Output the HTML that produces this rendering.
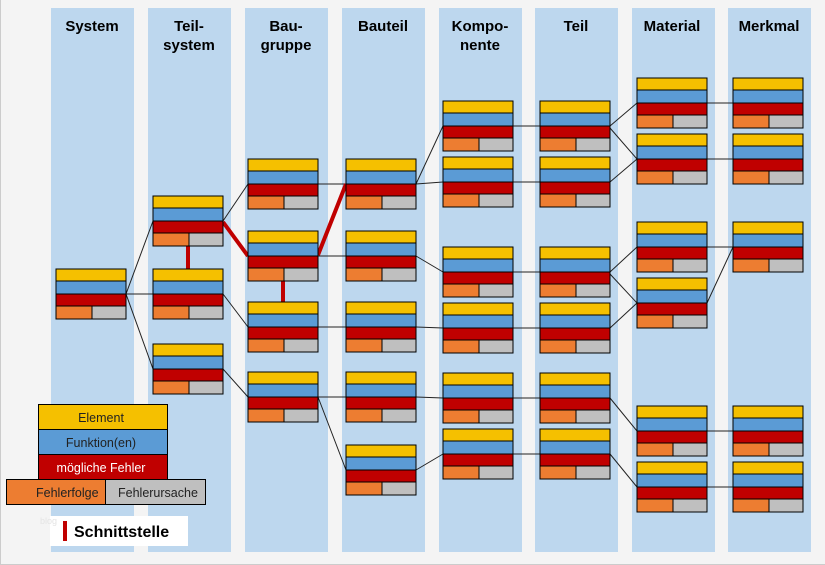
<!DOCTYPE html>
<html><head><meta charset="utf-8"><style>
html,body{margin:0;padding:0;background:#f4f4f4;}
svg{display:block;font-family:"Liberation Sans",sans-serif;}
</style></head><body>
<svg width="825" height="565" viewBox="0 0 825 565" xmlns="http://www.w3.org/2000/svg">
<defs>
<g id="b" stroke="#000" stroke-width="1">
<rect x="0" y="0" width="70" height="12" fill="#f5c000"/>
<rect x="0" y="12" width="70" height="13" fill="#5b9bd5"/>
<rect x="0" y="25" width="70" height="12" fill="#c00000"/>
<rect x="0" y="37" width="36" height="13" fill="#ed7d31"/>
<rect x="36" y="37" width="34" height="13" fill="#bfbfbf"/>
</g>
</defs>
<rect x="0" y="0" width="825" height="565" fill="#f4f4f4"/>
<line x1="0.5" y1="0" x2="0.5" y2="565" stroke="#ccc"/>
<line x1="0" y1="564.5" x2="825" y2="564.5" stroke="#ccc"/>
<g fill="#bdd7ee">
<rect x="51" y="8" width="83" height="544"/>
<rect x="148" y="8" width="83" height="544"/>
<rect x="245" y="8" width="83" height="544"/>
<rect x="342" y="8" width="83" height="544"/>
<rect x="439" y="8" width="83" height="544"/>
<rect x="535" y="8" width="83" height="544"/>
<rect x="632" y="8" width="83" height="544"/>
<rect x="728" y="8" width="83" height="544"/>
</g>
<g font-size="15" font-weight="bold" fill="#000" text-anchor="middle">
<text x="92" y="31">System</text>
<text x="189" y="31">Teil-</text><text x="189" y="50">system</text>
<text x="286" y="31">Bau-</text><text x="286" y="50">gruppe</text>
<text x="383" y="31">Bauteil</text>
<text x="480" y="31">Kompo-</text><text x="480" y="50">nente</text>
<text x="576" y="31">Teil</text>
<text x="672" y="31">Material</text>
<text x="769" y="31">Merkmal</text>
</g>
<g stroke="#222" stroke-width="1" fill="none">
<path d="M126 294L153 221M126 294L153 294M126 294L153 369"/>
<path d="M223 221L248 184M223 294L248 327M223 369L248 397"/>
<path d="M318 184L346 184M318 256L346 256M318 327L346 327M318 397L346 397M318 397L346 470"/>
<path d="M416 184L443 126M416 184L443 182M416 256L443 272M416 327L443 328M416 397L443 398M416 470L443 454"/>
<path d="M513 126L540 126M513 182L540 182M513 272L540 272M513 328L540 328M513 398L540 398M513 454L540 454"/>
<path d="M610 126L637 103M610 128L637 159M610 182L637 159M610 272L637 247M610 274L637 303M610 328L637 303M610 398L637 431M610 454L637 487"/>
<path d="M707 103L733 103M707 159L733 159M707 247L733 247M707 303L733 247M707 431L733 431M707 487L733 487"/>
</g>
<g stroke="#c00000" stroke-width="4">
<line x1="223" y1="222" x2="248" y2="256"/>
<line x1="318" y1="255" x2="346" y2="184"/>
<line x1="188" y1="246" x2="188" y2="269"/>
<line x1="283" y1="281" x2="283" y2="302"/>
</g>
<use href="#b" x="56" y="269"/>
<use href="#b" x="153" y="196"/><use href="#b" x="153" y="269"/><use href="#b" x="153" y="344"/>
<use href="#b" x="248" y="159"/><use href="#b" x="248" y="231"/><use href="#b" x="248" y="302"/><use href="#b" x="248" y="372"/>
<use href="#b" x="346" y="159"/><use href="#b" x="346" y="231"/><use href="#b" x="346" y="302"/><use href="#b" x="346" y="372"/><use href="#b" x="346" y="445"/>
<use href="#b" x="443" y="101"/><use href="#b" x="443" y="157"/><use href="#b" x="443" y="247"/><use href="#b" x="443" y="303"/><use href="#b" x="443" y="373"/><use href="#b" x="443" y="429"/>
<use href="#b" x="540" y="101"/><use href="#b" x="540" y="157"/><use href="#b" x="540" y="247"/><use href="#b" x="540" y="303"/><use href="#b" x="540" y="373"/><use href="#b" x="540" y="429"/>
<use href="#b" x="637" y="78"/><use href="#b" x="637" y="134"/><use href="#b" x="637" y="222"/><use href="#b" x="637" y="278"/><use href="#b" x="637" y="406"/><use href="#b" x="637" y="462"/>
<use href="#b" x="733" y="78"/><use href="#b" x="733" y="134"/><use href="#b" x="733" y="222"/><use href="#b" x="733" y="406"/><use href="#b" x="733" y="462"/>
<g stroke="#000" stroke-width="1">
<rect x="38.5" y="404.5" width="129" height="25" fill="#f5c000"/>
<rect x="38.5" y="429.5" width="129" height="25" fill="#5b9bd5"/>
<rect x="38.5" y="454.5" width="129" height="25" fill="#c00000"/>
<rect x="6.5" y="479.5" width="99" height="25" fill="#ed7d31"/>
<rect x="105.5" y="479.5" width="100" height="25" fill="#bfbfbf"/>
</g>
<g font-size="12.5" text-anchor="middle">
<text x="101" y="422" fill="#222">Element</text>
<text x="101" y="447" fill="#222">Funktion(en)</text>
<text x="101" y="472" fill="#fff">mögliche Fehler</text>
</g>
<g font-size="12.5" fill="#222">
<text x="36" y="497">Fehlerfolge</text>
<text x="118" y="497">Fehlerursache</text>
</g>
<rect x="50" y="516" width="138" height="30" fill="#fff"/>
<text x="40" y="524" font-size="9" fill="#e4e4e4">blog</text>
<rect x="63" y="521" width="4" height="20" fill="#c00000"/>
<text x="74" y="537" font-size="16" font-weight="bold" fill="#000">Schnittstelle</text>
</svg>
</body></html>
